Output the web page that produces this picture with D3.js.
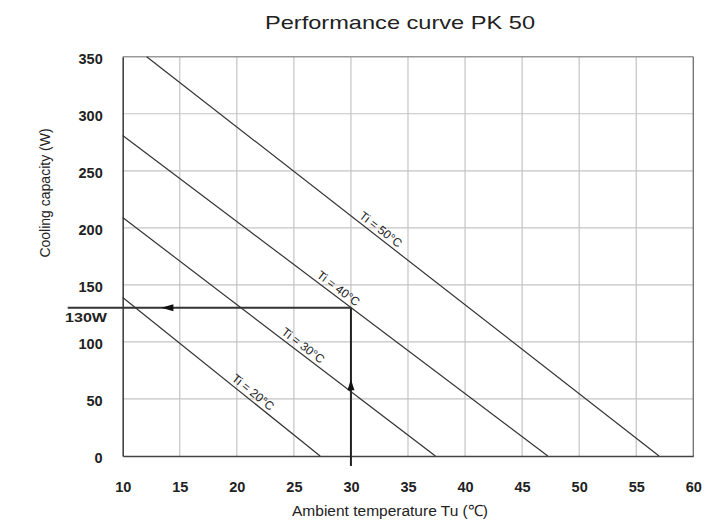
<!DOCTYPE html>
<html>
<head>
<meta charset="utf-8">
<script src="https://cdn.jsdelivr.net/npm/d3@7"></script>
<style>
  html, body { margin: 0; padding: 0; background: #fff; }
  svg { display: block; }
  text { font-family: "Liberation Sans", Arial, Helvetica, sans-serif; fill: #222; }
</style>
</head>
<body>
<script>
// Performance curve data: one straight line per interior temperature Ti
const curveLabels = ["Ti = 20°C", "Ti = 30°C", "Ti = 40°C", "Ti = 50°C"];
const curveStartX = [10, 10, 10, 12.1];
const curveStartY = [139, 209, 281, 350];
const curveEndX = [27.3, 37.4, 47.25, 57.0];
const curveEndY = [0, 0, 0, 0];
// where each line label sits (ambient temperature along the line)
const labelAtX = [21.0, 25.4, 28.5, 32.2];

// axis ticks
const xTicks = [10, 15, 20, 25, 30, 35, 40, 45, 50, 55, 60];
const yTicks = [0, 50, 100, 150, 200, 250, 300, 350];

// example reading: Tu = 30°C on the Ti = 40°C line gives 130 W
const readTu = 30;
const readW = 130;
const readLabel = "130W";

const width = 717, height = 525;
const svg = d3.select("body").append("svg")
  .attr("width", width).attr("height", height);

const x = d3.scaleLinear().domain([10, 60]).range([122.7, 693.3]);
const y = d3.scaleLinear().domain([0, 350]).range([456, 56.7]);

// title
svg.append("text")
  .attr("x", 400).attr("y", 29)
  .attr("text-anchor", "middle")
  .attr("textLength", 270)
  .attr("lengthAdjust", "spacingAndGlyphs")
  .style("font-size", "19px")
  .text("Performance curve PK 50");

// grid
const grid = svg.append("g");
grid.selectAll("line.gx").data(xTicks.slice(1, -1)).join("line")
  .attr("x1", d => x(d)).attr("x2", d => x(d))
  .attr("y1", y(0)).attr("y2", y(350))
  .attr("stroke", "#c4c4c4").attr("stroke-width", 1.2);
grid.selectAll("line.gy").data(yTicks.slice(1, -1)).join("line")
  .attr("x1", x(10)).attr("x2", x(60))
  .attr("y1", d => y(d)).attr("y2", d => y(d))
  .attr("stroke", "#c4c4c4").attr("stroke-width", 1.2);

// frame
svg.append("line").attr("x1", x(10)).attr("x2", x(60)).attr("y1", y(350)).attr("y2", y(350))
  .attr("stroke", "#999").attr("stroke-width", 1.4);
svg.append("line").attr("x1", x(60)).attr("x2", x(60)).attr("y1", y(350)).attr("y2", y(0))
  .attr("stroke", "#777").attr("stroke-width", 1.4);

// axes built with d3-axis, styled as plain frame lines without outward ticks
const xAxis = svg.append("g").attr("transform", `translate(0,${y(0)})`)
  .call(d3.axisBottom(x).tickValues(xTicks).tickSize(0).tickFormat(d3.format("d")));
const yAxis = svg.append("g").attr("transform", `translate(${x(10)},0)`)
  .call(d3.axisLeft(y).tickValues(yTicks).tickSize(0).tickPadding(20).tickFormat(d3.format("d")));
[xAxis, yAxis].forEach(a => {
  a.select(".domain").attr("stroke", "#444").attr("stroke-width", 1.6);
  a.selectAll("text")
    .style("font-family", "'Liberation Sans', Arial, sans-serif")
    .style("font-size", "14.5px")
    .style("font-weight", "bold")
    .attr("fill", "#222");
});
xAxis.selectAll("text").attr("dy", null).attr("y", 36);
yAxis.selectAll("text").attr("dy", "0.45em");

// axis titles
svg.append("text")
  .attr("x", 390).attr("y", 516)
  .attr("text-anchor", "middle")
  .style("font-size", "15.5px")
  .text("Ambient temperature Tu (℃)");
svg.append("text")
  .attr("transform", `translate(50,193) rotate(-90)`)
  .attr("text-anchor", "middle")
  .style("font-size", "14px")
  .text("Cooling capacity (W)");

// performance lines
const curves = curveLabels.map((lab, i) => ({
  label: lab,
  x0: curveStartX[i], y0: curveStartY[i],
  x1: curveEndX[i], y1: curveEndY[i],
  lx: labelAtX[i]
}));
svg.append("g").selectAll("line").data(curves).join("line")
  .attr("x1", d => x(d.x0)).attr("y1", d => y(d.y0))
  .attr("x2", d => x(d.x1)).attr("y2", d => y(d.y1))
  .attr("stroke", "#333").attr("stroke-width", 1.2);

// labels rotated along each line
svg.append("g").selectAll("text").data(curves).join("text")
  .attr("transform", d => {
    const t = (d.lx - d.x0) / (d.x1 - d.x0);
    const ly = d.y0 + t * (d.y1 - d.y0);
    const ang = Math.atan2(y(d.y1) - y(d.y0), x(d.x1) - x(d.x0)) * 180 / Math.PI;
    return `translate(${x(d.lx)},${y(ly)}) rotate(${ang})`;
  })
  .attr("text-anchor", "middle")
  .attr("dy", "-0.3em")
  .style("font-size", "12px")
  .text(d => d.label);

// reading lines: up from Tu = 30 to the curve, then left to the capacity axis
const readG = svg.append("g");
readG.append("line")
  .attr("x1", x(readTu)).attr("x2", x(readTu))
  .attr("y1", y(0) + 10).attr("y2", y(readW))
  .attr("stroke", "#222").attr("stroke-width", 2);
readG.append("line")
  .attr("x1", x(10) - 55).attr("x2", x(readTu))
  .attr("y1", y(readW)).attr("y2", y(readW))
  .attr("stroke", "#333").attr("stroke-width", 2);

// arrowheads on the reading lines
const upArrowY = y(62);
readG.append("path")
  .attr("d", `M${x(readTu)},${upArrowY - 6} L${x(readTu) - 3.5},${upArrowY + 5} L${x(readTu) + 3.5},${upArrowY + 5} Z`)
  .attr("fill", "#111");
const leftArrowX = x(14);
readG.append("path")
  .attr("d", `M${leftArrowX - 7},${y(readW)} L${leftArrowX + 5},${y(readW) - 3.5} L${leftArrowX + 5},${y(readW) + 3.5} Z`)
  .attr("fill", "#111");

svg.append("text")
  .attr("x", 65).attr("y", y(readW) + 14)
  .attr("textLength", 42)
  .attr("lengthAdjust", "spacingAndGlyphs")
  .style("font-size", "13px")
  .style("font-weight", "bold")
  .text(readLabel);
</script>
</body>
</html>
